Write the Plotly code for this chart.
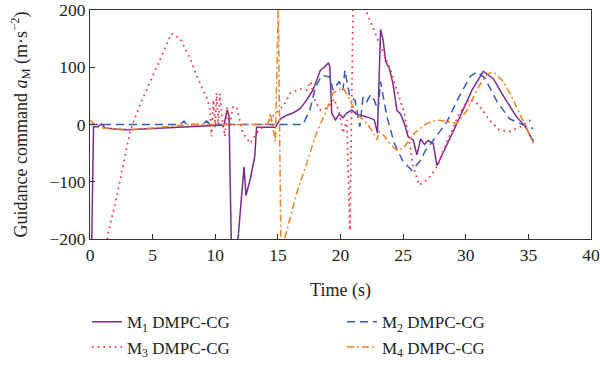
import plotly.graph_objects as go

# ---- data ----
m1_t = [0.10, 0.28, 0.6, 0.93, 1.2, 2.0, 3.0, 4.0, 5.0, 6.0, 7.0, 8.0, 9.0, 10.0, 10.7, 10.95, 11.1, 11.3,
        11.7, 12.1, 12.3, 12.45, 12.8, 13.15, 13.3, 14.0, 14.8, 15.2, 15.6, 16.2, 16.8, 17.3, 17.8, 18.4,
        18.7, 19.05, 19.15, 19.3, 19.6, 19.9, 20.2, 20.5, 20.9, 21.3, 21.8, 22.3, 22.7, 22.95, 23.2, 23.4,
        23.6, 23.9, 24.2, 24.5, 24.8, 25.1, 25.4, 25.8, 26.1, 26.4, 26.7, 27.0, 27.4, 27.7, 29.0, 30.5,
        31.4, 32.2, 33.0, 34.0, 34.8, 35.4]
m1_y = [-260, -4, -4, 1, -6, -8, -9, -8, -6, -5, -4, -3, -2, -1, -1, 26, 15, -230,
        -230, -126, -74, -124, -95, -56, -5, -5, -5, 10, 15, 20, 28, 43, 60, 95,
        100, 108, 100, 20, 8, 18, 12, 20, 25, 18, 15, 12, 8, -15, 166, 148,
        110, 98, 70, 25, 18, 2, -21, -27, -53, -25, -35, -28, -33, -72, -12, 60,
        93, 80, 50, 15, -5, -30]

m2_t = [0, 7.2, 7.5, 7.7, 9.0, 9.3, 9.6, 10.0, 17.0, 17.55, 18.0, 18.5, 19.15, 19.4, 19.9, 20.2, 20.35,
        20.75, 21.15, 21.55, 21.8, 22.1, 22.4, 22.7, 23.0, 23.2, 23.7, 24.3, 25.0, 25.7, 26.3, 26.8,
        27.5, 28.5, 29.5, 30.4, 30.9, 31.5, 32.5, 33.5, 34.3, 35.4]
m2_y = [0, 0, 6, 0, 0, 6, 1, 0, 0, 25, 65, 86, 83, 60, 75, 60, 95,
        48, 43, -4, 48, 40, 52, 42, 25, 75, 14, -33, -65, -80, -65, -45,
        -25, 5, 50, 85, 92, 82, 40, 10, 2, -7]

m3_t = [1.2, 1.46, 2.0, 2.5, 3.2, 4.0, 4.5, 5.5, 6.5, 7.2, 8.0, 8.5, 9.0, 9.39, 9.58, 9.7, 9.85, 10.0,
        10.1, 10.25, 10.37, 10.55, 10.77, 10.95, 11.15, 11.4, 11.7, 12.2, 12.8, 13.4, 14.0, 14.6, 15.0,
        15.5, 16.0, 16.8, 17.3, 17.6, 18.0, 18.4, 19.0, 19.5, 19.9, 20.2, 20.5, 20.75, 21.0, 21.5, 22.0,
        23.1, 24.0, 24.5, 25.1, 25.5, 25.8, 26.3, 27.0, 27.7, 28.5, 29.5, 30.3, 31.0, 32.0, 32.7, 33.5,
        34.3, 35.4]
m3_y = [-230, -187, -140, -85, -12, 35, 60, 110, 159, 150, 115, 86, 60, 43, 25, -21, 43, -5,
        55, 0, 54, 10, -21, 30, -5, 30, 31, -15, -33, -12, 0, 14, 25,
        35, 55, 62, 60, 75, 40, 25, 30, 45, 20, -15, 8, -185, 200, 240, 200,
        142, 95, 60, 20, -30, -74, -106, -95, -74, -30, 20, 45, 35, 5, -10, -12,
        -5, 11]

m4_t = [0, 0.3, 0.6, 1.0, 2.0, 3.0, 4.0, 5.0, 6.0, 7.0, 8.0, 14.2, 14.4, 14.6, 14.8, 15.03, 15.25, 15.6,
        16.5, 17.3, 18.0, 18.36, 18.8, 19.4, 19.8, 20.2, 20.6, 21.0, 21.55, 22.1, 22.6, 22.9, 23.1, 23.5,
        24.0, 24.5, 25.0, 25.9, 26.9, 27.7, 28.5, 29.3, 30.1, 31.0, 31.7, 32.2, 33.0, 33.8, 34.6, 35.4]
m4_y = [8, 2, -5, -6, -8, -10, -8, -6, -4, -2, 0, 0, 20, -5, -30, 210, -230, -195,
        -120, -68, -20, 0, 20, 55, 60, 64, 50, 31, 14, 2, -13, -27, -12, -20,
        -35, -45, -42, -15, 2, 8, 5, 2, 25, 65, 88, 92, 75, 43, 5, -33]

x_ticks = [0, 5, 10, 15, 20, 25, 30, 35, 40]
y_ticks = [-200, -100, 0, 100, 200]
y_tick_text = ["\u2212200", "\u2212100", "0", "100", "200"]

FONT = "Liberation Serif"
TXT = "#222222"

fig = go.Figure()
fig.add_trace(go.Scatter(x=m1_t, y=m1_y, mode="lines", name="M<sub>1</sub> DMPC-CG",
                         line=dict(color="#7b2a8e", width=1.5)))
fig.add_trace(go.Scatter(x=m2_t, y=m2_y, mode="lines", name="M<sub>2</sub> DMPC-CG",
                         line=dict(color="#3a58b8", width=1.5, dash="8px,5px")))
fig.add_trace(go.Scatter(x=m3_t, y=m3_y, mode="lines", name="M<sub>3</sub> DMPC-CG",
                         line=dict(color="#ff3040", width=1.7, dash="1.7px,4px")))
fig.add_trace(go.Scatter(x=m4_t, y=m4_y, mode="lines", name="M<sub>4</sub> DMPC-CG",
                         line=dict(color="#f5821f", width=1.5, dash="7px,3px,2px,3px")))

axis_common = dict(showline=True, linecolor="#333333", linewidth=1, mirror=True, automargin=False,
                   ticks="inside", ticklen=5, tickcolor="#333333", showgrid=False, zeroline=False,
                   tickfont=dict(family=FONT, size=17.5, color=TXT))

fig.update_xaxes(range=[0, 40], tickvals=x_ticks,
                 title=dict(text="Time (s)", font=dict(family=FONT, size=18, color=TXT), standoff=19),
                 **axis_common)
fig.update_yaxes(range=[-200, 200], tickvals=y_ticks, ticktext=y_tick_text,
                 title=dict(text="Guidance command <i>a</i><sub>M</sub> (m\u00b7s<sup>\u22122</sup>)",
                            font=dict(family=FONT, size=18, color=TXT), standoff=17),
                 **axis_common)

fig.update_layout(
    width=600, height=365,
    margin=dict(l=90, r=9, t=10, b=126, autoexpand=False),
    plot_bgcolor="white", paper_bgcolor="white",
    font=dict(family=FONT, size=18, color=TXT),
    legend=dict(orientation="h", x=-0.006, xanchor="left", y=-0.285, yanchor="top",
                entrywidth=210, entrywidthmode="pixels", tracegroupgap=0,
                font=dict(family=FONT, size=17, color=TXT), itemwidth=30),
)

fig.write_html("out.html", config={"displayModeBar": False},
               post_script="document.body.style.margin='0px';document.body.style.overflow='hidden';")
